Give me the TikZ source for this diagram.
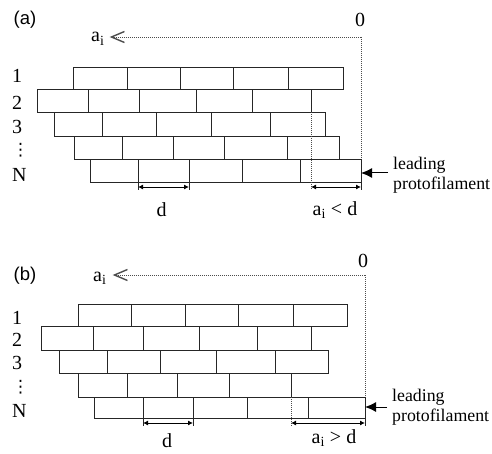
\documentclass[tikz,border=0pt]{standalone}
\usepackage{fontspec}
\setmainfont{Liberation Serif}
\newfontfamily\panelfont{Liberation Sans}
\newfontfamily\dotfont{DejaVu Sans}
\usetikzlibrary{arrows.meta,calc}
\tikzset{
  brick/.style={draw=black!85, line width=0.9pt},
  guide/.style={draw=black!70, line width=0.7pt, dash pattern=on 1pt off 1pt},
  ext/.style={draw=black!85, line width=0.9pt},
  dimarrow/.style={draw=black, line width=0.9pt, {Latex[length=5pt,width=5pt]}-{Latex[length=5pt,width=5pt]}},
  leadarrow/.style={draw=black, line width=1pt, -{Latex[length=11pt,width=10pt]}},
  aiarrow/.style={guide, -{Straight Barb[length=13pt,width=11pt,line width=1.4pt]}},
  lbl/.style={inner sep=0pt, font=\fontsize{20}{22}\selectfont},
  dotlbl/.style={inner sep=0pt, font=\dotfont\fontsize{17}{19}\selectfont},
  panel/.style={inner sep=0pt, font=\panelfont\fontsize{18.5}{20}\selectfont},
  leadlbl/.style={inner xsep=5pt, inner ysep=0pt, align=left, anchor=north west, font=\fontsize{17.8}{20}\selectfont},
}
\newcommand\brickrow[3]{\foreach \xa/\xb in {#3}{\draw[brick] (\xa,#1) rectangle (\xb,#2);}}
\begin{document}
\begin{tikzpicture}[x=1pt,y=-1pt]
\useasboundingbox (0,0) rectangle (492,454);

% ---------------- panel (a) ----------------
\node[panel] (pa) at (25,20) {(a)};
\node[lbl, anchor=base west] (aiA) at (91,42) {a\textsubscript{i}};
\node[lbl] (zeroA) at (360,20) {0};
\node[lbl, anchor=west] (r1A) at (12,75.5) {1};
\node[lbl, anchor=west] (r2A) at (12,103) {2};
\node[lbl, anchor=west] (r3A) at (12,127) {3};
\node[dotlbl, anchor=west] (r4A) at (12,150) {⋮};
\node[lbl, anchor=west] (rNA) at (12,175) {N};

\brickrow{67}{89}{73/127,127/180,180/233,233/288,288/343}
\brickrow{89}{112}{37/88,88/139,139/196,196/252,252/311}
\brickrow{112}{136}{54/102,102/156,156/211,211/270,270/325}
\brickrow{136}{159}{74/122,122/173,173/224,224/287,287/339}
\brickrow{159}{182}{90/138,138/189,189/242,242/300,300/361}

\coordinate (cornerA) at (361,37);
\coordinate (rowNA) at (361,159);
\draw[guide] (cornerA) -- (rowNA);
\draw[aiarrow] (cornerA) -- ($(aiA.east |- cornerA)+(5,0)$);

\coordinate (dA1) at (138,187);
\coordinate (dA2) at (189,187);
\coordinate (eA1) at (311,187);
\coordinate (eA2) at (361,187);
\draw[ext] (138,182) -- (138,190) (189,182) -- (189,190) (361,182) -- (361,190);
\draw[guide] (311,112) -- (311,190);
\draw[dimarrow] (dA1) -- (dA2);
\draw[dimarrow] (eA1) -- (eA2);
\node[lbl] (dA) at (161.5,210) {d};
\node[lbl] (aidA) at (335,210) {a\textsubscript{i} < d};

\node[leadlbl] (leadA) at (388,157) {leading\\protofilament};
\coordinate (tipA) at (361,173);
\draw[leadarrow] (leadA.west |- tipA) -- (tipA);

% ---------------- panel (b) ----------------
\node[panel] (pb) at (25,276) {(b)};
\node[lbl, anchor=base west] (aiB) at (93,281) {a\textsubscript{i}};
\node[lbl] (zeroB) at (363,261) {0};
\node[lbl, anchor=west] (r1B) at (12,318) {1};
\node[lbl, anchor=west] (r2B) at (12,340) {2};
\node[lbl, anchor=west] (r3B) at (12,363) {3};
\node[dotlbl, anchor=west] (r4B) at (12,387) {⋮};
\node[lbl, anchor=west] (rNB) at (12,411) {N};

\brickrow{304}{326}{78/131,131/185,185/238,238/293,293/347}
\brickrow{326}{350}{41/93,93/143,143/199,199/257,257/311}
\brickrow{350}{373}{59/107,107/160,160/216,216/275,275/328}
\brickrow{373}{397}{78/127,127/177,177/229,229/291}
\brickrow{397}{418}{94/143,143/193,193/247,247/308,308/365}

\coordinate (cornerB) at (365,275);
\coordinate (rowNB) at (365,397);
\draw[guide] (cornerB) -- (rowNB);
\draw[aiarrow] (cornerB) -- ($(aiB.east |- cornerB)+(6,0)$);

\coordinate (dB1) at (143,423);
\coordinate (dB2) at (193,423);
\coordinate (eB1) at (291,423);
\coordinate (eB2) at (365,423);
\draw[ext] (143,418) -- (143,426) (193,418) -- (193,426) (365,418) -- (365,426);
\draw[guide] (291,397) -- (291,426);
\draw[dimarrow] (dB1) -- (dB2);
\draw[dimarrow] (eB1) -- (eB2);
\node[lbl] (dB) at (167,441) {d};
\node[lbl] (aidB) at (334,438) {a\textsubscript{i} > d};

\node[leadlbl] (leadB) at (387,389) {leading\\protofilament};
\coordinate (tipB) at (365,407);
\draw[leadarrow] (leadB.west |- tipB) -- (tipB);
\end{tikzpicture}
\end{document}
